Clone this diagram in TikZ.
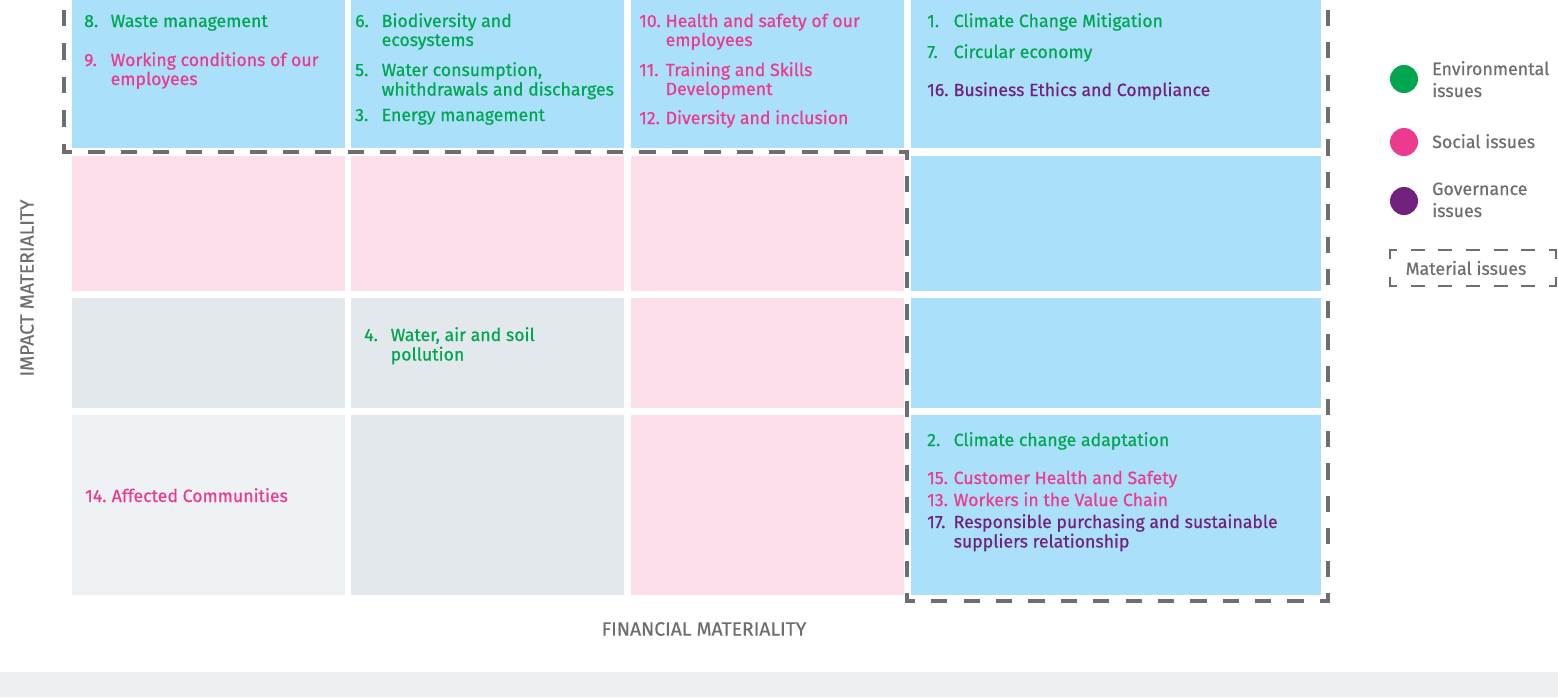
\documentclass[tikz,border=0pt]{standalone}
\usepackage{fontspec}
\setmainfont{Fira Sans}
\newfontfamily\medfont{Fira Sans}[FakeBold=0.6]
\definecolor{cblue}{HTML}{AAE0FA}
\definecolor{cpink}{HTML}{FCDFEA}
\definecolor{cgray}{HTML}{E2E8EC}
\definecolor{clight}{HTML}{EEF2F5}
\definecolor{band}{HTML}{ECF0F3}
\definecolor{tgreen}{HTML}{00A650}
\definecolor{tpink}{HTML}{EC3A8F}
\definecolor{tpurple}{HTML}{72217F}
\definecolor{tgray}{HTML}{6D6E71}
\newcommand\itm[2]{\makebox[26.5pt][l]{#1}\begin{tabular}[t]{@{}l@{}}#2\end{tabular}}
\newcommand\mcell[6]{\node[cellbox, fill=#2, minimum width={#5pt-#3pt}, minimum height={#6pt-#4pt}] (#1) at (#3,#4) {};}
\tikzset{
  cellbox/.style={draw=none, inner sep=0pt, outer sep=0pt, anchor=north west},
  itembox/.style={anchor=base west, inner sep=0pt, font=\medfont\fontsize{17.7}{19}\selectfont},
  env/.style={itembox, text=tgreen},
  soc/.style={itembox, text=tpink},
  gov/.style={itembox, text=tpurple},
  axislabel/.style={inner sep=0pt, text=tgray, font=\medfont\fontsize{19.3}{22}\selectfont},
  legtext/.style={anchor=base west, inner sep=0pt, text=tgray, font=\medfont\fontsize{17.8}{22}\selectfont},
  dot/.style={circle, inner sep=0pt, minimum size=28pt},
  mat/.style={draw=tgray, line width=4pt},
  matleg/.style={draw=tgray, line width=2.5pt},
}
\begin{document}
\begin{tikzpicture}[x=1pt,y=-1pt]
\useasboundingbox (0,0) rectangle (1558,697);
\fill[band] (0,672) rectangle (1558,697);
% cells
\mcell{c11}{cblue}{72}{-2}{345}{148}
\mcell{c12}{cblue}{351}{-2}{624}{148}
\mcell{c13}{cblue}{631}{-2}{904}{148}
\mcell{c14}{cblue}{911}{-2}{1321}{148}
\mcell{c21}{cpink}{72}{156}{345}{291}
\mcell{c22}{cpink}{351}{156}{624}{291}
\mcell{c23}{cpink}{631}{156}{904}{291}
\mcell{c24}{cblue}{911}{156}{1321}{291}
\mcell{c31}{cgray}{72}{298}{345}{408}
\mcell{c32}{cgray}{351}{298}{624}{408}
\mcell{c33}{cpink}{631}{298}{904}{408}
\mcell{c34}{cblue}{911}{298}{1321}{408}
\mcell{c41}{clight}{72}{415}{345}{595}
\mcell{c42}{cgray}{351}{415}{624}{595}
\mcell{c43}{cpink}{631}{415}{904}{595}
\mcell{c44}{cblue}{911}{415}{1321}{595}
% material issues boundary
\coordinate (m1) at (64,0);
\coordinate (m2) at (64,152);
\coordinate (m3) at (907,152);
\coordinate (m4) at (907,601);
\coordinate (m5) at (1328,601);
\coordinate (m6) at (1328,0);
\draw[mat, dash pattern=on 16.75pt off 16.75pt, dash phase=8.37pt] (m2) -- (m1);
\draw[mat, dash pattern=on 16.21pt off 16.21pt, dash phase=8.1pt] (m2) -- (m3);
\draw[mat, dash pattern=on 16.04pt off 16.04pt, dash phase=8.02pt] (m3) -- (m4);
\draw[mat, dash pattern=on 16.19pt off 16.19pt, dash phase=8.1pt] (m4) -- (m5);
\draw[mat, dash pattern=on 16.2pt off 16.2pt, dash phase=8.1pt] (m5) -- (m6);
\draw[mat, line join=miter] (m2) ++(0,-8) -- ++(0,8) -- ++(8,0);
\draw[mat, line join=miter] (m3) ++(-8,0) -- ++(8,0) -- ++(0,8);
\draw[mat, line join=miter] (m4) ++(0,-8) -- ++(0,8) -- ++(8,0);
\draw[mat, line join=miter] (m5) ++(-8,0) -- ++(8,0) -- ++(0,-8);
% items
\node[env] (i8) at (84,27) {\itm{8.}{Waste management}};
\node[soc] (i9) at (84,66) {\itm{9.}{Working conditions of our\\employees}};
\node[env] (i6) at (355,27) {\itm{6.}{Biodiversity and\\ecosystems}};
\node[env] (i5) at (355,76) {\itm{5.}{Water consumption,\\whithdrawals and discharges}};
\node[env] (i3) at (355,121) {\itm{3.}{Energy management}};
\node[soc] (i10) at (639,27) {\itm{10.}{Health and safety of our\\employees}};
\node[soc] (i11) at (639,76) {\itm{11.}{Training and Skills\\Development}};
\node[soc] (i12) at (639,124) {\itm{12.}{Diversity and inclusion}};
\node[env] (i1) at (927,27) {\itm{1.}{Climate Change Mitigation}};
\node[env] (i7) at (927,58) {\itm{7.}{Circular economy}};
\node[gov] (i16) at (927,96) {\itm{16.}{Business Ethics and Compliance}};
\node[env] (i4) at (364,341) {\itm{4.}{Water, air and soil\\pollution}};
\node[soc] (i14) at (85,502) {\itm{14.}{Affected Communities}};
\node[env] (i2) at (927,446) {\itm{2.}{Climate change adaptation}};
\node[soc] (i15) at (927,484) {\itm{15.}{Customer Health and Safety}};
\node[soc] (i13) at (927,506) {\itm{13.}{Workers in the Value Chain}};
\node[gov] (i17) at (927,528) {\itm{17.}{Responsible purchasing and sustainable\\suppliers relationship}};
% axes
\node[axislabel, rotate=90] (ylab) at (27,288) {IMPACT MATERIALITY};
\node[axislabel] (xlab) at (704,629) {FINANCIAL MATERIALITY};
% legend
\node[dot, fill=tgreen] (lg1) at (1404,79) {};
\node[dot, fill=tpink] (lg2) at (1404,142) {};
\node[dot, fill=tpurple] (lg3) at (1404,201) {};
\node[legtext] (lt1) at (1432,75) {\begin{tabular}[t]{@{}l@{}}Environmental\\issues\end{tabular}};
\node[legtext] (lt2) at (1432,148) {Social issues};
\node[legtext] (lt3) at (1432,195) {\begin{tabular}[t]{@{}l@{}}Governance\\issues\end{tabular}};
\coordinate (b1) at (1390,250);
\coordinate (b2) at (1556,250);
\coordinate (b3) at (1556,286);
\coordinate (b4) at (1390,286);
\draw[matleg, dash pattern=on 13.83pt off 13.83pt, dash phase=6.92pt] (b1) -- (b2);
\draw[matleg, dash pattern=on 13.83pt off 13.83pt, dash phase=6.92pt] (b4) -- (b3);
\draw[matleg, dash pattern=on 18pt off 18pt, dash phase=9pt] (b1) -- (b4);
\draw[matleg, dash pattern=on 18pt off 18pt, dash phase=9pt] (b2) -- (b3);
\draw[matleg, line join=miter] (b1) ++(0,7) -- ++(0,-7) -- ++(7,0);
\draw[matleg, line join=miter] (b2) ++(-7,0) -- ++(7,0) -- ++(0,7);
\draw[matleg, line join=miter] (b3) ++(0,-7) -- ++(0,7) -- ++(-7,0);
\draw[matleg, line join=miter] (b4) ++(7,0) -- ++(-7,0) -- ++(0,-7);
\node[legtext, anchor=center] (lt4) at (1466,268) {Material issues};
\end{tikzpicture}
\end{document}
